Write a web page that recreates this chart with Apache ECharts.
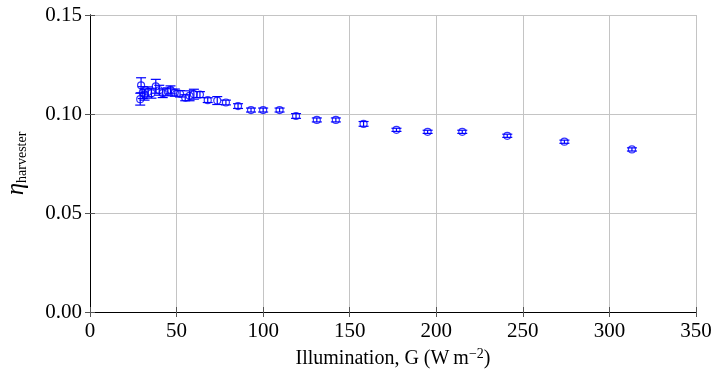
<!DOCTYPE html>
<html>
<head>
<meta charset="utf-8">
<script src="https://cdn.jsdelivr.net/npm/echarts@6/dist/echarts.min.js"></script>
<style>
  html, body { margin: 0; padding: 0; background: #fff; }
  #chart { width: 714px; height: 381px; }
</style>
</head>
<body>
<div id="chart"></div>
<script>
// illumination G (W m^-2)
const illumination = [29.5, 30.5, 29.0, 31.5, 33.5, 35.5, 38.0, 40.0, 42.0, 45.0,
  46.5, 49.0, 52.0, 55.0, 57.5, 60.0, 63.5, 68.0, 73.5, 78.5,
  85.5, 93.0, 100.0, 109.5, 119.0, 131.0, 142.0, 158.0, 177.0, 195.0,
  215.0, 241.0, 274.0, 313.0];
// harvester efficiency
const efficiency = [0.1145, 0.1108, 0.1075, 0.1098, 0.1112, 0.1105, 0.1140, 0.1120, 0.1105, 0.1112,
  0.1122, 0.1108, 0.1102, 0.1082, 0.1092, 0.1100, 0.1098, 0.1070, 0.1068, 0.1058,
  0.1040, 0.1020, 0.1020, 0.1020, 0.0990, 0.0970, 0.0970, 0.0950, 0.0920, 0.0910,
  0.0910, 0.0890, 0.0860, 0.0821];
// half-width of the error bars
const errors = [0.0038, 0.0030, 0.0030, 0.0028, 0.0025, 0.0025, 0.0035, 0.0025, 0.0022, 0.0020,
  0.0020, 0.0018, 0.0016, 0.0015, 0.0025, 0.0025, 0.0015, 0.0012, 0.0020, 0.0012,
  0.0012, 0.0010, 0.0010, 0.0010, 0.0012, 0.0010, 0.0010, 0.0012, 0.0008, 0.0008,
  0.0008, 0.0008, 0.0008, 0.0008];

const points = illumination.map((g, i) => [g, efficiency[i], errors[i]]);

const font = "Liberation Serif";
const blue = "#0000ff";
const gridGray = "#c4c4c4";

const chart = echarts.init(document.getElementById("chart"));

const tickStyle = { show: true, inside: true, length: 5, lineStyle: { color: "#555", width: 1 } };

chart.setOption({
  animation: false,
  grid: { left: 90, right: 18, top: 15, bottom: 69, outerBoundsMode: "none" },
  xAxis: [
    {
      type: "value",
      min: 0,
      max: 350,
      interval: 50,
      name: "{t|Illumination, G (W\u2009m}{sup|\u22122}{t|)}",
      nameLocation: "middle",
      nameGap: 25,
      nameTextStyle: {
        rich: {
          t: { fontFamily: font, fontSize: 20, color: "#000" },
          sup: { fontFamily: font, fontSize: 14, color: "#000", verticalAlign: "top", padding: [0, 0, 10, 0] }
        }
      },
      axisLine: { show: true, lineStyle: { color: "#000", width: 1 } },
      axisTick: tickStyle,
      axisLabel: { fontFamily: font, fontSize: 21, color: "#000", margin: 9 },
      splitLine: { show: true, lineStyle: { color: gridGray, width: 1 } }
    },
    {
      type: "value",
      position: "top",
      min: 0,
      max: 350,
      interval: 50,
      axisLine: { show: true, lineStyle: { color: "#000", width: 1 } },
      axisTick: tickStyle,
      axisLabel: { show: false },
      splitLine: { show: false }
    }
  ],
  yAxis: [
    {
      type: "value",
      min: 0,
      max: 0.15,
      interval: 0.05,
      name: "{eta|\u03b7}{sub|harvester}",
      nameLocation: "middle",
      nameGap: 61,
      nameTextStyle: {
        rich: {
          eta: { fontFamily: font, fontSize: 25, fontStyle: "italic", color: "#000" },
          sub: { fontFamily: font, fontSize: 14, color: "#000", verticalAlign: "bottom", padding: [8, 0, 0, 0] }
        }
      },
      axisLine: { show: true, lineStyle: { color: "#000", width: 1 } },
      axisTick: tickStyle,
      axisLabel: { fontFamily: font, fontSize: 21, color: "#000", margin: 8, formatter: v => v.toFixed(2) },
      splitLine: { show: true, lineStyle: { color: gridGray, width: 1 } }
    },
    {
      type: "value",
      position: "right",
      min: 0,
      max: 0.15,
      interval: 0.05,
      axisLine: { show: true, lineStyle: { color: "#000", width: 1 } },
      axisTick: tickStyle,
      axisLabel: { show: false },
      splitLine: { show: false }
    }
  ],
  series: [
    {
      // error bars
      type: "custom",
      data: points,
      z: 3,
      renderItem: function (params, api) {
        const x = api.value(0);
        const y = api.value(1);
        const e = api.value(2);
        const top = api.coord([x, y + e]);
        const bot = api.coord([x, y - e]);
        const half = 5;
        const style = { stroke: blue, lineWidth: 1.2 };
        return {
          type: "group",
          children: [
            { type: "line", shape: { x1: top[0], y1: top[1], x2: bot[0], y2: bot[1] }, style: style },
            { type: "line", shape: { x1: top[0] - half, y1: top[1], x2: top[0] + half, y2: top[1] }, style: style },
            { type: "line", shape: { x1: bot[0] - half, y1: bot[1], x2: bot[0] + half, y2: bot[1] }, style: style }
          ]
        };
      }
    },
    {
      type: "scatter",
      data: points.map(p => [p[0], p[1]]),
      symbol: "circle",
      symbolSize: 7,
      z: 4,
      itemStyle: { color: "rgba(255,255,255,0)", borderColor: blue, borderWidth: 1.2 }
    }
  ]
});
</script>
</body>
</html>
